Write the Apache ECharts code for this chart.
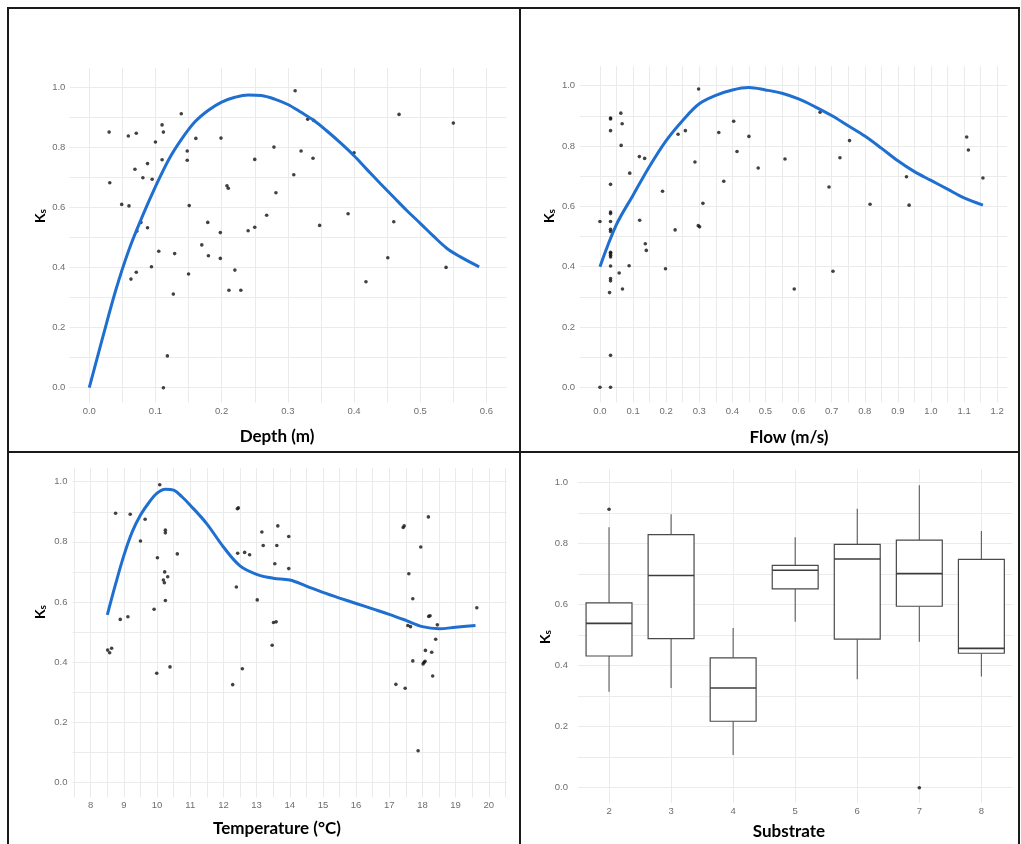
<!DOCTYPE html>
<html>
<head>
<meta charset="utf-8">
<script src="https://cdn.jsdelivr.net/npm/echarts@6/dist/echarts.min.js"></script>
<style>
  html, body { margin: 0; padding: 0; background: #ffffff; }
  #chart { position: absolute; left: 0; top: 0; width: 1021px; height: 844px; }
  .rule { position: absolute; background: #1a1a1a; }
</style>
</head>
<body>
<div id="chart"></div>
<!-- table frame around the four panels -->
<div class="rule" style="left:7px;top:7px;width:1013px;height:2px"></div>
<div class="rule" style="left:7px;top:7px;width:2px;height:837px"></div>
<div class="rule" style="left:1018px;top:7px;width:2px;height:837px"></div>
<div class="rule" style="left:519px;top:7px;width:2px;height:837px"></div>
<div class="rule" style="left:7px;top:451px;width:1013px;height:2px"></div>
<script>
// ---- tick labels and grid breaks ----
const ksTicks = [0, 0.2, 0.4, 0.6, 0.8, 1.0];
const ksBreaks = [0, 0.1, 0.2, 0.3, 0.4, 0.5, 0.6, 0.7, 0.8, 0.9, 1.0];
const depthTicks = [0, 0.1, 0.2, 0.3, 0.4, 0.5, 0.6];
const depthBreaks = [0, 0.05, 0.1, 0.15, 0.2, 0.25, 0.3, 0.35, 0.4, 0.45, 0.5, 0.55, 0.6];
const flowTicks = [0, 0.1, 0.2, 0.3, 0.4, 0.5, 0.6, 0.7, 0.8, 0.9, 1.0, 1.1, 1.2];
const flowBreaks = [0, 0.05, 0.1, 0.15, 0.2, 0.25, 0.3, 0.35, 0.4, 0.45, 0.5, 0.55, 0.6,
                    0.65, 0.7, 0.75, 0.8, 0.85, 0.9, 0.95, 1.0, 1.05, 1.1, 1.15, 1.2];
const tempTicks = [8, 9, 10, 11, 12, 13, 14, 15, 16, 17, 18, 19, 20];
const tempBreaks = [7.5, 8, 8.5, 9, 9.5, 10, 10.5, 11, 11.5, 12, 12.5, 13, 13.5, 14, 14.5,
                    15, 15.5, 16, 16.5, 17, 17.5, 18, 18.5, 19, 19.5, 20, 20.5];
const substrates = ['2', '3', '4', '5', '6', '7', '8'];

// ---- depth (m) vs Ks ----
const depthX = [0.030,0.031,0.049,0.059,0.071,0.060,0.069,0.088,0.081,0.095,0.100,0.110,0.112,0.110,0.139,
  0.078,0.072,0.088,0.105,0.094,0.071,0.063,0.129,0.127,0.118,0.112,0.148,0.148,0.151,0.150,0.161,0.170,
  0.179,0.180,0.199,0.198,0.198,0.208,0.210,0.211,0.220,0.229,0.240,0.250,0.250,0.268,0.279,0.282,0.309,
  0.311,0.320,0.330,0.339,0.338,0.348,0.391,0.400,0.418,0.451,0.460,0.468,0.539,0.550];
const depthKs = [0.852,0.683,0.611,0.839,0.848,0.606,0.728,0.747,0.700,0.695,0.819,0.876,0.852,0.760,0.913,
  0.551,0.522,0.533,0.455,0.403,0.385,0.362,0.447,0.312,0.106,0.000,0.789,0.758,0.607,0.379,0.831,0.476,
  0.551,0.440,0.832,0.517,0.431,0.673,0.665,0.325,0.392,0.325,0.523,0.535,0.761,0.575,0.802,0.650,0.710,
  0.990,0.789,0.895,0.891,0.765,0.541,0.580,0.783,0.353,0.433,0.553,0.911,0.401,0.882];
const depthFitX = [0,0.02,0.04,0.06,0.08,0.10,0.12,0.14,0.16,0.18,0.20,0.22,0.24,0.26,0.28,0.30,
  0.32,0.34,0.36,0.38,0.40,0.42,0.44,0.46,0.48,0.50,0.52,0.54,0.56,0.589];
const depthFitKs = [0,0.165,0.325,0.46,0.57,0.67,0.76,0.83,0.887,0.925,0.952,0.968,0.976,0.974,0.962,0.944,
  0.918,0.89,0.854,0.815,0.773,0.726,0.68,0.635,0.59,0.548,0.505,0.465,0.437,0.403];

// ---- flow (m/s) vs Ks ----
const flowX = [0.000,0.032,0.000,0.032,0.029,0.032,0.032,0.032,0.032,0.032,0.032,0.032,0.032,0.032,0.032,
  0.032,0.032,0.032,0.032,0.032,0.032,0.063,0.067,0.064,0.090,0.058,0.068,0.088,0.119,0.135,0.120,0.137,
  0.140,0.189,0.198,0.227,0.236,0.258,0.287,0.298,0.297,0.301,0.311,0.359,0.374,0.404,0.414,0.450,0.478,
  0.559,0.587,0.665,0.692,0.704,0.725,0.754,0.816,0.926,0.934,1.108,1.113,1.157];
const flowKs = [0.000,0.000,0.550,0.106,0.314,0.353,0.361,0.402,0.432,0.438,0.444,0.448,0.517,0.524,0.550,
  0.576,0.581,0.673,0.851,0.890,0.893,0.909,0.874,0.802,0.710,0.379,0.326,0.403,0.765,0.759,0.554,0.476,
  0.454,0.650,0.393,0.522,0.839,0.851,0.747,0.989,0.536,0.532,0.610,0.845,0.683,0.882,0.782,0.832,0.727,
  0.757,0.326,0.912,0.664,0.385,0.761,0.818,0.607,0.698,0.604,0.830,0.787,0.694];
const flowFitX = [0,0.05,0.10,0.15,0.20,0.25,0.30,0.35,0.40,0.45,0.50,0.55,0.60,0.65,0.70,0.75,0.80,
  0.85,0.90,0.95,1.00,1.05,1.10,1.157];
const flowFitKs = [0.40,0.54,0.637,0.733,0.818,0.885,0.94,0.968,0.986,0.994,0.986,0.975,0.956,0.93,0.901,
  0.867,0.833,0.793,0.751,0.715,0.686,0.657,0.628,0.604];

// ---- temperature (°C) vs Ks ----
const tempX = [8.51,8.57,8.63,8.75,8.89,9.12,9.19,9.50,9.64,9.91,9.99,10.01,10.08,10.19,10.22,10.23,10.32,
  10.25,10.25,10.25,10.39,10.61,12.28,12.39,12.42,12.45,12.43,12.57,12.64,12.79,13.02,13.16,13.20,13.47,
  13.51,13.59,13.55,13.61,13.64,13.97,13.97,17.20,17.48,17.42,17.45,17.59,17.56,17.64,17.71,17.71,17.87,
  17.95,18.02,18.05,18.08,18.09,18.18,18.19,18.23,18.28,18.31,18.40,18.45,19.64];
const tempKs = [0.440,0.431,0.446,0.895,0.542,0.551,0.892,0.803,0.875,0.576,0.363,0.747,0.990,0.673,0.664,
  0.700,0.684,0.839,0.830,0.605,0.384,0.760,0.325,0.650,0.910,0.913,0.762,0.378,0.765,0.757,0.607,0.833,
  0.788,0.456,0.532,0.534,0.727,0.788,0.853,0.818,0.711,0.326,0.313,0.848,0.853,0.694,0.522,0.518,0.611,
  0.404,0.105,0.783,0.394,0.399,0.403,0.439,0.883,0.552,0.554,0.433,0.354,0.476,0.524,0.581];
const tempFitX = [8.5,8.75,9.0,9.25,9.5,9.75,10.0,10.25,10.5,10.75,11.0,11.5,12.0,12.5,13.0,13.5,14.0,
  14.5,15.0,15.5,16.0,16.5,17.0,17.5,18.0,18.5,19.0,19.6];
const tempFitKs = [0.557,0.66,0.755,0.833,0.889,0.93,0.962,0.975,0.972,0.95,0.922,0.86,0.783,0.72,0.692,
  0.679,0.673,0.653,0.632,0.613,0.595,0.577,0.559,0.539,0.518,0.511,0.516,0.522];

// ---- substrate boxplots: whisker low, Q1, median, Q3, whisker high ----
const boxLow  = [0.315, 0.327, 0.107, 0.544, 0.356, 0.479, 0.365];
const boxQ1   = [0.432, 0.489, 0.218, 0.652, 0.487, 0.595, 0.441];
const boxMed  = [0.539, 0.696, 0.327, 0.713, 0.750, 0.702, 0.457];
const boxQ3   = [0.606, 0.830, 0.426, 0.729, 0.798, 0.812, 0.749];
const boxHigh = [0.854, 0.897, 0.524, 0.821, 0.915, 0.992, 0.842];
const outlierSubstrate = ['2', '7'];
const outlierKs = [0.913, 0.000];

const zip = (a, b) => a.map((v, i) => [v, b[i]]);

const TICK_FONT = { color: '#6e6e6e', fontSize: 9.5, fontFamily: 'Liberation Sans' };
const GRID_LINE = { show: true, lineStyle: { color: '#ebebeb', width: 1 } };

function valueAxis(gridIndex, min, max, ticks, breaks, margin) {
  return {
    type: 'value', gridIndex, min, max,
    axisLine: { show: false },
    axisTick: { show: false, customValues: breaks },
    axisLabel: Object.assign({ customValues: ticks, margin,
      formatter: v => (Number.isInteger(v) && max > 2 ? String(v) : v.toFixed(1)) }, TICK_FONT),
    splitLine: GRID_LINE,
    minorSplitLine: { show: false }
  };
}

const grids = [
  { left: 69.4, top: 68.2, width: 436.9, height: 334.5 },
  { left: 580.1, top: 66.1, width: 427.0, height: 336.3 },
  { left: 72.5, top: 468.2, width: 434.5, height: 329.2 },
  { left: 578.0, top: 469.0, width: 434.4, height: 334.0 }
];

const xAxes = [
  valueAxis(0, -0.03, 0.63, depthTicks, depthBreaks, 4),
  valueAxis(1, -0.06, 1.23, flowTicks, flowBreaks, 4),
  valueAxis(2, 7.45, 20.55, tempTicks, tempBreaks, 3),
  {
    type: 'category', gridIndex: 3, data: substrates, boundaryGap: true,
    axisLine: { show: false },
    axisTick: { show: false, alignWithLabel: true },
    axisLabel: Object.assign({ margin: 3 }, TICK_FONT),
    splitLine: { show: true, alignWithLabel: true, lineStyle: { color: '#ebebeb', width: 1 } }
  }
];

const yAxes = [
  valueAxis(0, -0.05, 1.065, ksTicks, ksBreaks, 4),
  valueAxis(1, -0.05, 1.065, ksTicks, ksBreaks, 5),
  valueAxis(2, -0.05, 1.045, ksTicks, ksBreaks, 5),
  valueAxis(3, -0.05, 1.045, ksTicks, ksBreaks, 10)
];

function pointSeries(i, xs, ys) {
  return {
    type: 'scatter', xAxisIndex: i, yAxisIndex: i, data: zip(xs, ys),
    symbol: 'circle', symbolSize: 3.6, itemStyle: { color: '#111111' }, z: 2, silent: true
  };
}
function fitSeries(i, xs, ys) {
  return {
    type: 'line', xAxisIndex: i, yAxisIndex: i, data: zip(xs, ys),
    smooth: 0.35, showSymbol: false, symbol: 'none',
    lineStyle: { color: '#1f6fd0', width: 3 }, z: 3, silent: true
  };
}

// box-and-whisker glyph without whisker caps
function renderBox(params, api) {
  const cat = api.value(0);
  const pLow = api.coord([cat, api.value(1)]);
  const pQ1 = api.coord([cat, api.value(2)]);
  const pMed = api.coord([cat, api.value(3)]);
  const pQ3 = api.coord([cat, api.value(4)]);
  const pHigh = api.coord([cat, api.value(5)]);
  const half = api.size([1, 0])[0] * 0.37;
  const whisker = { stroke: '#5a5a5a', lineWidth: 1.1 };
  const frame = { stroke: '#4a4a4a', lineWidth: 1.2 };
  return {
    type: 'group',
    children: [
      { type: 'line', shape: { x1: pHigh[0], y1: pHigh[1], x2: pQ3[0], y2: pQ3[1] }, style: whisker },
      { type: 'line', shape: { x1: pQ1[0], y1: pQ1[1], x2: pLow[0], y2: pLow[1] }, style: whisker },
      { type: 'rect', shape: { x: pQ3[0] - half, y: pQ3[1], width: half * 2, height: pQ1[1] - pQ3[1] },
        style: Object.assign({ fill: '#ffffff' }, frame) },
      { type: 'line', shape: { x1: pMed[0] - half, y1: pMed[1], x2: pMed[0] + half, y2: pMed[1] },
        style: { stroke: '#3c3c3c', lineWidth: 1.6 } }
    ]
  };
}

const series = [
  pointSeries(0, depthX, depthKs), fitSeries(0, depthFitX, depthFitKs),
  pointSeries(1, flowX, flowKs), fitSeries(1, flowFitX, flowFitKs),
  pointSeries(2, tempX, tempKs), fitSeries(2, tempFitX, tempFitKs),
  {
    type: 'custom', xAxisIndex: 3, yAxisIndex: 3,
    data: substrates.map((s, i) => [s, boxLow[i], boxQ1[i], boxMed[i], boxQ3[i], boxHigh[i]]),
    encode: { x: 0, y: [1, 2, 3, 4, 5] },
    renderItem: renderBox, silent: true, z: 2
  },
  {
    type: 'scatter', xAxisIndex: 3, yAxisIndex: 3, data: zip(outlierSubstrate, outlierKs),
    symbol: 'circle', symbolSize: 3.6, itemStyle: { color: '#111111' }, silent: true, z: 3
  }
];

// axis titles
const titleFont = { fontFamily: 'Lato', fontWeight: 'bold', fontSize: 17, fill: '#000000' };
const xTitles = [
  ['Depth (m)', 277, 437], ['Flow (m/s)', 789, 438],
  ['Temperature (\u00B0C)', 277, 829], ['Substrate', 789, 832]
];
const yTitlePos = [[40, 216], [549, 216], [40, 612], [545, 637]];
const graphic = [];
xTitles.forEach(([t, x, y]) => graphic.push({
  type: 'text', x, y, silent: true,
  style: Object.assign({ text: t, align: 'center', verticalAlign: 'middle' }, titleFont)
}));
yTitlePos.forEach(([x, y]) => graphic.push({
  type: 'text', x, y, rotation: Math.PI / 2, silent: true,
  style: {
    text: '{k|K}{s|s}', align: 'center', verticalAlign: 'middle',
    rich: {
      k: { fontFamily: 'Lato', fontWeight: 'bold', fontSize: 14, fill: '#000', lineHeight: 16, verticalAlign: 'middle' },
      s: { fontFamily: 'Lato', fontWeight: 'bold', fontSize: 10, fill: '#000', lineHeight: 16, verticalAlign: 'bottom', padding: [6, 0, 0, 0] }
    }
  }
}));

const chart = echarts.init(document.getElementById('chart'), null, { renderer: 'canvas' });
chart.setOption({
  animation: false,
  backgroundColor: '#ffffff',
  grid: grids,
  xAxis: xAxes,
  yAxis: yAxes,
  series,
  graphic
});
</script>
</body>
</html>
